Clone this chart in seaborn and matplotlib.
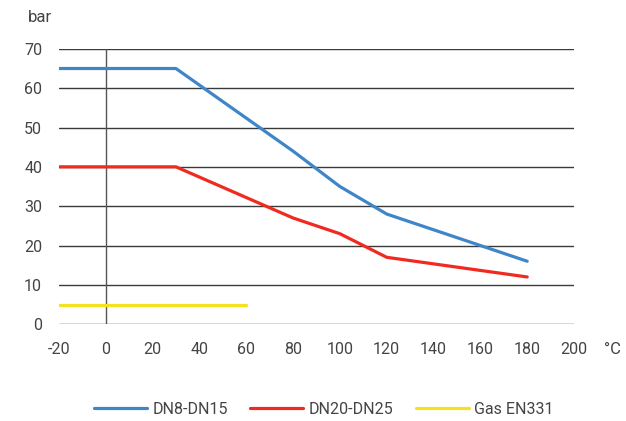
import matplotlib
matplotlib.use("Agg")
import matplotlib.pyplot as plt
import seaborn as sns
import pandas as pd

dn8_x = [-20, 30, 80, 100, 120, 180]
dn8_y = [65, 65, 44, 35, 28, 16]
dn20_x = [-20, 30, 80, 100, 120, 180]
dn20_y = [40, 40, 27, 23, 17, 12]
gas_x = [-20, 60]
gas_y = [5, 5]
series_names = ["DN8-DN15", "DN20-DN25", "Gas EN331"]
x_ticks = [-20, 0, 20, 40, 60, 80, 100, 120, 140, 160, 180, 200]
y_ticks = [0, 10, 20, 30, 40, 50, 60, 70]

frames = []
for name, xs, ys in zip(series_names, [dn8_x, dn20_x, gas_x], [dn8_y, dn20_y, gas_y]):
    frames.append(pd.DataFrame({"T": xs, "P": ys, "series": name}))
df = pd.concat(frames, ignore_index=True)

sns.set_theme(style="white")
plt.rcParams["font.family"] = ["Roboto", "DejaVu Sans"]

fig = plt.figure(figsize=(6.26, 4.21), dpi=100)
ax = fig.add_axes([0.094, 0.230, 0.823, 0.654])

palette = {"DN8-DN15": "#3F86C8", "DN20-DN25": "#F02A20", "Gas EN331": "#F5E21E"}

for y in y_ticks:
    ax.axhline(y, color="#3a3a3a", lw=1.0, zorder=1)
ax.axvline(0, color="#555555", lw=1.0, zorder=1)

sns.lineplot(data=df, x="T", y="P", hue="series", palette=palette, ax=ax,
             lw=2.3, legend=False, zorder=3, sort=False, estimator=None)

ax.set_xlim(-20, 200)
ax.set_ylim(0, 70)
ax.set_xticks(x_ticks)
ax.set_yticks(y_ticks)
ax.set_xticklabels([str(v) for v in x_ticks])
ax.set_yticklabels([str(v) for v in y_ticks])
ax.tick_params(axis="both", length=0, labelsize=11.5, colors="#444444")
ax.tick_params(axis="x", pad=13)
ax.tick_params(axis="y", pad=12)
for s in ax.spines.values():
    s.set_visible(False)
ax.set_xlabel("")
ax.set_ylabel("")
ax.grid(False)

fig.text(28 / 626, 1 - 17 / 421, "bar", fontsize=12, color="#444444", ha="left", va="center")
fig.text(604 / 626, 1 - 349 / 421, "°C", fontsize=12, color="#444444", ha="left", va="center")

from matplotlib.lines import Line2D
handles = [Line2D([0], [0], color=palette[n], lw=2.3) for n in series_names]
fig.legend(handles, series_names, loc="center", bbox_to_anchor=(324 / 626, 1 - 409 / 421),
           ncol=3, frameon=False, fontsize=11.5, handlelength=3.3, columnspacing=1.4,
           handletextpad=0.35, labelcolor="#444444")

fig.savefig("out.png", dpi=100)
